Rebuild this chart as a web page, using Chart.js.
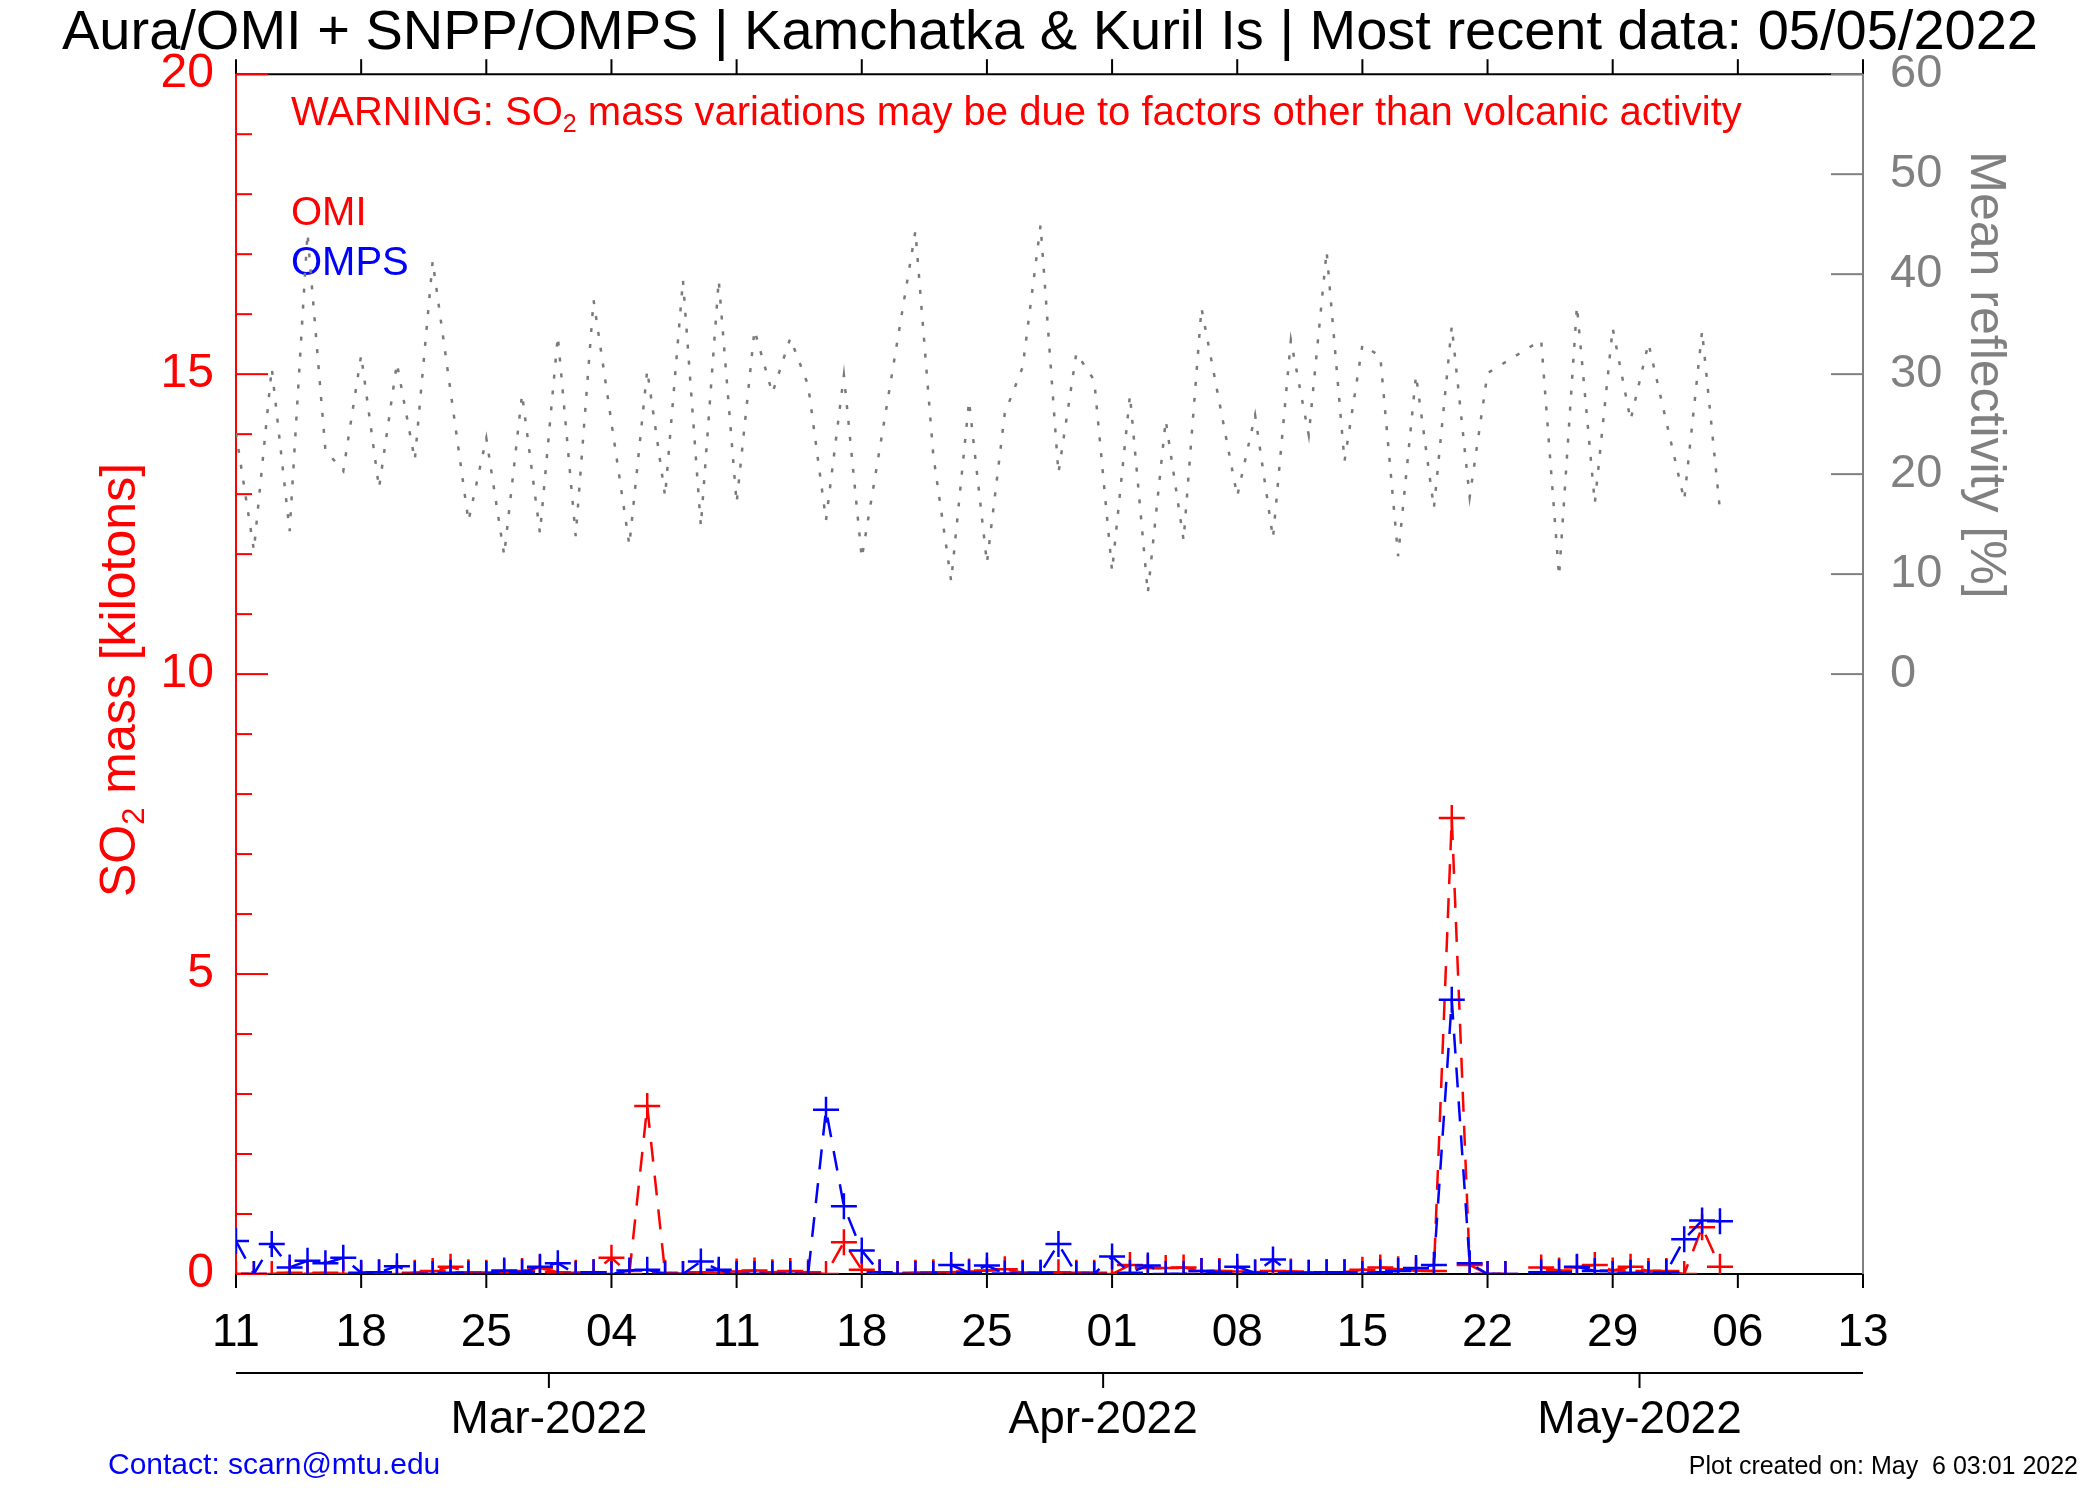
<!DOCTYPE html>
<html>
<head>
<meta charset="utf-8">
<title>Kamchatka &amp; Kuril Is SO2</title>
<script src="https://cdn.jsdelivr.net/npm/chart.js@4.4.1/dist/chart.umd.min.js"></script>
<style>
  html, body { margin: 0; padding: 0; background: #fff; }
  #wrap { width: 2100px; height: 1500px; }
</style>
</head>
<body>
<div id="wrap"><canvas id="myChart" width="2100" height="1500"></canvas></div>
<script>
// one value per day, index 0 = 11 Feb 2022, last = 05 May 2022
const omi = [
  0.00, 0.00, 0.00, 0.02, 0.00, 0.02, 0.00, 0.00, 0.02, 0.00,
  0.02, 0.05, 0.12, 0.03, 0.02, 0.03, 0.05, 0.10, 0.03, 0.02,
  0.03, 0.27, 0.00, 2.80, 0.02, 0.00, 0.03, 0.02, 0.04, 0.06,
  0.03, 0.05, 0.03, 0.00, 0.53, 0.07, 0.02, 0.00, 0.02, 0.03,
  0.03, 0.04, 0.06, 0.08, 0.02, 0.02, 0.03, 0.02, 0.02, 0.00,
  0.15, 0.10, 0.10, 0.11, 0.05, 0.05, 0.04, 0.03, 0.05, 0.04,
  0.02, 0.03, 0.03, 0.07, 0.11, 0.08, 0.06, 0.05, 7.60, 0.15,
  0.00, 0.00, null, 0.11, 0.06, 0.11, 0.15, 0.06, 0.12, 0.05,
  0.05, 0.00, 0.78, 0.12
];
const omps = [
  0.55, 0.00, 0.50, 0.11, 0.22, 0.18, 0.27, 0.02, 0.03, 0.13,
  0.00, 0.00, 0.02, 0.00, 0.00, 0.06, 0.03, 0.12, 0.18, 0.00,
  0.03, 0.00, 0.06, 0.07, 0.00, 0.00, 0.21, 0.07, 0.00, 0.00,
  0.00, 0.00, 0.00, 2.74, 1.13, 0.39, 0.03, 0.00, 0.00, 0.00,
  0.15, 0.02, 0.14, 0.01, 0.00, 0.02, 0.50, 0.00, 0.00, 0.29,
  0.02, 0.14, 0.00, 0.00, 0.05, 0.03, 0.12, 0.02, 0.24, 0.02,
  0.02, 0.03, 0.03, 0.00, 0.03, 0.05, 0.10, 0.15, 4.57, 0.18,
  0.00, 0.00, null, 0.03, 0.03, 0.12, 0.05, 0.00, 0.02, 0.00,
  0.03, 0.58, 0.89, 0.88
];
const reflectivity = [
  24.1, 12.4, 30.6, 14.3, 44.1, 22.4, 20.3, 31.9, 18.6, 31.1,
  21.4, 41.3, null, 15.3, 23.6, 11.9, 28.0, 14.1, 33.8, 13.8,
  37.4, null, 12.9, 30.4, 17.8, 39.4, 14.8, 39.4, 17.1, 34.4,
  28.1, 33.6, 28.9, 15.4, 29.9, 11.6, null, null, 44.3, 21.9,
  9.3, 27.3, 11.1, 26.1, 30.7, 44.9, 20.1, 32.1, 29.4, 10.3,
  27.9, 8.1, 25.4, 13.4, 36.6, null, 17.8, 25.9, 13.6, 33.4,
  23.9, 42.3, 21.3, 32.9, 31.8, 11.8, 29.9, 16.6, 34.8, 17.7,
  30.1, null, null, 33.4, 9.8, 36.8, 17.1, 34.6, 25.4, 33.1,
  null, 17.4, 34.3, 16.4
];
const weekLabels = ['11', '18', '25', '04', '11', '18', '25', '01', '08', '15', '22', '29', '06', '13'];
const monthLabels = ['Mar-2022', 'Apr-2022', 'May-2022'];
const monthEdges = [17.5, 48.5, 78.5];
const so2Ticks = [0, 5, 10, 15, 20];
const reflTicks = [0, 10, 20, 30, 40, 50, 60];

const dayIndex = omi.map((v, i) => i);

Chart.defaults.font.family = '"Liberation Sans", Arial, sans-serif';

function strokeLine(ctx, x1, y1, x2, y2) {
    ctx.beginPath();
    ctx.moveTo(x1, y1);
    ctx.lineTo(x2, y2);
    ctx.stroke();
}

// draws text pieces, the flagged ones as subscript
function subText(ctx, parts, x, y, size, align) {
    const subSize = Math.round(size * 0.62);
    let w = 0;
    parts.forEach(p => {
        ctx.font = (p[1] ? subSize : size) + 'px "Liberation Sans", Arial, sans-serif';
        w += ctx.measureText(p[0]).width;
    });
    let cx = align === 'center' ? x - w / 2 : x;
    parts.forEach(p => {
        ctx.font = (p[1] ? subSize : size) + 'px "Liberation Sans", Arial, sans-serif';
        ctx.fillText(p[0], cx, p[1] ? y + size * 0.18 : y);
        cx += ctx.measureText(p[0]).width;
    });
}

const decor = {
    id: 'decor',
    beforeDatasetsDraw(chart) {
        const {ctx, chartArea: a, scales} = chart;
        const x = scales.x, xm = scales.xm, y = scales.y, y2 = scales.y2;
        ctx.save();
        ctx.lineWidth = 2;
        ctx.lineCap = 'butt';

        // frame top/bottom with weekly ticks
        ctx.strokeStyle = '#000';
        strokeLine(ctx, a.left, a.top, a.right, a.top);
        strokeLine(ctx, a.left, a.bottom, a.right, a.bottom);
        x.ticks.forEach(t => {
            const px = x.getPixelForValue(t.value);
            strokeLine(ctx, px, a.top, px, a.top - 15);
            strokeLine(ctx, px, a.bottom, px, a.bottom + 14);
        });

        // month axis
        const my = xm.top;
        strokeLine(ctx, a.left, my, a.right, my);
        xm.ticks.forEach(t => {
            const px = xm.getPixelForValue(t.value);
            strokeLine(ctx, px, my, px, my + 15);
        });

        // left SO2 axis, ticks inside
        ctx.strokeStyle = '#ff0000';
        strokeLine(ctx, a.left, a.top, a.left, a.bottom);
        for (let v = y.min; v <= y.max; v++) {
            const py = y.getPixelForValue(v);
            strokeLine(ctx, a.left, py, a.left + (v % 5 === 0 ? 32 : 16), py);
        }

        // right reflectivity axis, ticks inside
        ctx.strokeStyle = '#808080';
        strokeLine(ctx, a.right, a.top, a.right, a.bottom);
        y2.ticks.forEach(t => {
            const py = y2.getPixelForValue(t.value);
            strokeLine(ctx, a.right, py, a.right - 32, py);
        });

        // texts
        ctx.textBaseline = 'alphabetic';
        ctx.textAlign = 'left';
        ctx.fillStyle = '#ff0000';
        subText(ctx, [['WARNING: SO', false], ['2', true],
            [' mass variations may be due to factors other than volcanic activity', false]], 291, 125, 40, 'left');
        ctx.font = '40px "Liberation Sans", Arial, sans-serif';
        ctx.fillText('OMI', 291, 225);
        ctx.fillStyle = '#0000ff';
        ctx.fillText('OMPS', 291, 275);

        // left axis title
        ctx.save();
        ctx.translate(135, 680);
        ctx.rotate(-Math.PI / 2);
        ctx.fillStyle = '#ff0000';
        subText(ctx, [['SO', false], ['2', true], [' mass [kilotons]', false]], 0, 0, 50, 'center');
        ctx.restore();

        // right axis title
        ctx.save();
        ctx.translate(1971, 375);
        ctx.rotate(Math.PI / 2);
        ctx.fillStyle = '#808080';
        subText(ctx, [['Mean reflectivity [%]', false]], 0, 0, 50, 'center');
        ctx.restore();

        // footer
        ctx.fillStyle = '#0000ff';
        ctx.textBaseline = 'middle';
        ctx.font = '30px "Liberation Sans", Arial, sans-serif';
        ctx.fillText('Contact: scarn@mtu.edu', 108, 1466);
        ctx.fillStyle = '#000';
        ctx.textAlign = 'right';
        ctx.font = '25px "Liberation Sans", Arial, sans-serif';
        ctx.fillText('Plot created on: May  6 03:01 2022', 2078, 1467);

        ctx.restore();
    }
};

const ctx = document.getElementById('myChart').getContext('2d');
const myChart = new Chart(ctx, {
    type: 'line',
    data: {
        labels: dayIndex,
        datasets: [{
            label: 'OMPS',
            data: omps,
            xAxisID: 'x',
            yAxisID: 'y',
            borderColor: '#0000ff',
            borderWidth: 2.5,
            borderDash: [20, 14],
            pointStyle: 'cross',
            pointRadius: 13,
            pointBorderWidth: 2.5,
            pointBorderColor: '#0000ff',
            spanGaps: false,
            clip: 0,
            order: 0
        }, {
            label: 'OMI',
            data: omi,
            xAxisID: 'x',
            yAxisID: 'y',
            borderColor: '#ff0000',
            borderWidth: 2.5,
            borderDash: [20, 14],
            pointStyle: 'cross',
            pointRadius: 13,
            pointBorderWidth: 2.5,
            pointBorderColor: '#ff0000',
            spanGaps: false,
            clip: 0,
            order: 1
        }, {
            label: 'Mean reflectivity',
            data: reflectivity,
            xAxisID: 'x',
            yAxisID: 'y2',
            borderColor: '#7a7a7a',
            borderWidth: 2.5,
            borderDash: [4, 12],
            pointRadius: 0,
            spanGaps: true,
            clip: 0,
            order: 2
        }]
    },
    options: {
        responsive: false,
        animation: false,
        devicePixelRatio: 1,
        layout: { padding: 0 },
        plugins: {
            legend: { display: false },
            tooltip: { enabled: false },
            title: {
                display: true,
                text: 'Aura/OMI + SNPP/OMPS | Kamchatka & Kuril Is | Most recent data: 05/05/2022',
                color: '#000',
                font: { size: 56, weight: 'normal', lineHeight: 1.2 },
                padding: { top: 0, bottom: 7 }
            }
        },
        scales: {
            x: {
                type: 'linear',
                position: 'bottom',
                weight: 0,
                min: 0,
                max: 91,
                afterBuildTicks: s => { s.ticks = weekLabels.map((l, i) => ({ value: i * 7 })); },
                ticks: {
                    callback: (v, i) => weekLabels[i],
                    color: '#000',
                    font: { size: 46 },
                    padding: 24,
                    maxRotation: 0,
                    autoSkip: false
                },
                grid: { display: false },
                border: { display: false },
                afterFit: s => { s.height = 99; }
            },
            xm: {
                type: 'linear',
                position: 'bottom',
                weight: 1,
                min: 0,
                max: 91,
                afterBuildTicks: s => { s.ticks = monthEdges.map(v => ({ value: v })); },
                ticks: {
                    callback: (v, i) => monthLabels[i],
                    color: '#000',
                    font: { size: 46 },
                    padding: 12,
                    maxRotation: 0,
                    autoSkip: false
                },
                grid: { display: false },
                border: { display: false },
                afterFit: s => { s.height = 127; }
            },
            y: {
                type: 'linear',
                position: 'left',
                min: 0,
                max: 20,
                afterBuildTicks: s => { s.ticks = so2Ticks.map(v => ({ value: v })); },
                ticks: { color: '#ff0000', font: { size: 48 }, padding: 14 },
                grid: { display: false },
                border: { display: false },
                afterFit: s => { s.width = 236; }
            },
            y2: {
                type: 'linear',
                position: 'right',
                min: -60,
                max: 60,
                afterBuildTicks: s => { s.ticks = reflTicks.map(v => ({ value: v })); },
                ticks: { color: '#808080', font: { size: 47 }, padding: 19 },
                grid: { display: false },
                border: { display: false },
                afterFit: s => { s.width = 237; }
            }
        }
    },
    plugins: [decor]
});
</script>
</body>
</html>
